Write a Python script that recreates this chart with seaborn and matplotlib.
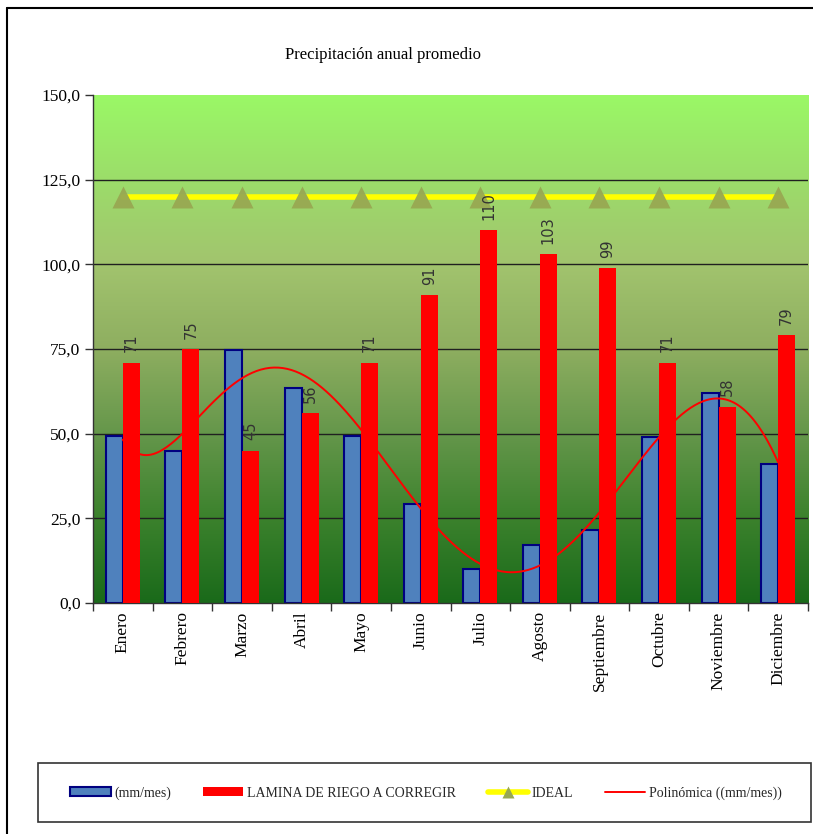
import numpy as np
import pandas as pd
import matplotlib
matplotlib.use("Agg")
import matplotlib.pyplot as plt
from matplotlib.colors import LinearSegmentedColormap
from matplotlib.lines import Line2D
from matplotlib.patches import Patch, Rectangle
import seaborn as sns

# ---- data ----
meses = ["Enero", "Febrero", "Marzo", "Abril", "Mayo", "Junio", "Julio",
         "Agosto", "Septiembre", "Octubre", "Noviembre", "Diciembre"]
precipitacion = [49.3, 44.9, 74.7, 63.5, 49.3, 29.2, 10.0, 17.1, 21.5, 49.1, 61.9, 41.0]
lamina = [71, 75, 45, 56, 71, 91, 110, 103, 99, 71, 58, 79]
ideal = [120] * 12
yticks = [0, 25, 50, 75, 100, 125, 150]

serif = ["Liberation Serif", "DejaVu Serif"]

sns.set_theme(style="white")
plt.rcParams["font.family"] = serif

fig = plt.figure(figsize=(8.13, 8.34), dpi=100)
ax = fig.add_axes([93 / 813, 1 - 603 / 834, 715 / 813, 508 / 834])

df = pd.DataFrame({
    "mes": meses * 2,
    "valor": precipitacion + lamina,
    "serie": ["(mm/mes)"] * 12 + ["LAMINA DE RIEGO A CORREGIR"] * 12,
})

sns.barplot(data=df, x="mes", y="valor", hue="serie", order=meses,
            palette=["#4F81BD", "#FF0000"], width=0.57, dodge=True,
            errorbar=None, legend=False, ax=ax, saturation=1)

blue_bars, red_bars = ax.containers[0], ax.containers[1]
for p in blue_bars:
    p.set_edgecolor("#000080")
    p.set_linewidth(1.5)
    p.set_zorder(2)
for p in red_bars:
    p.set_edgecolor("none")
    p.set_zorder(4)

# gradient background of the plot area
grad_cmap = LinearSegmentedColormap.from_list("fondo", [
    (0.00, "#1A6A1A"),
    (0.17, "#3C822D"),
    (0.33, "#64964A"),
    (0.50, "#8EAE60"),
    (0.67, "#A2C46E"),
    (0.83, "#9CDC6A"),
    (1.00, "#9AF866"),
])
grad = np.linspace(0, 1, 256).reshape(-1, 1)
ax.imshow(grad, cmap=grad_cmap, origin="lower", aspect="auto",
          extent=[-0.5, 11.5, 0, 150], zorder=0)

# horizontal gridlines
for v in yticks[1:-1]:
    ax.axhline(v, color="#202020", lw=1.0, zorder=1)

# polynomial trendline (order 6) of the monthly precipitation
xpos = np.arange(12)
coef = np.polyfit(xpos + 1, precipitacion, 6)
xs = np.linspace(1, 12, 300)
ax.plot(xs - 1, np.polyval(coef, xs), color="#FF0000", lw=1.4, zorder=3)

# ideal reference line with triangle markers
sns.lineplot(x=xpos, y=ideal, color="#FFFF00", lw=4, ax=ax, zorder=5)
ax.plot(xpos, ideal, ls="none", marker="^", ms=16, mfc="#98A852",
        mec="none", alpha=0.95, zorder=6)

# value labels on the red bars
for p, v in zip(red_bars, lamina):
    ax.text(p.get_x() + p.get_width() / 2, v + 3, f"{v}", rotation=90,
            ha="center", va="bottom", fontsize=10.5, color="#333333",
            family=["DejaVu Sans"], zorder=7)

ax.set_xlim(-0.5, 11.5)
ax.set_ylim(0, 150)
ax.set_yticks(yticks)
ax.set_yticklabels([f"{v:.1f}".replace(".", ",") for v in yticks],
                   fontsize=12.5, color="#000000")
ax.set_xticks(xpos)
ax.set_xticklabels(meses, rotation=90, fontsize=12.5, color="#000000")
ax.set_xticks(np.arange(-0.5, 12, 1), minor=True)
ax.tick_params(axis="x", which="major", length=0, pad=6)
ax.tick_params(axis="x", which="minor", length=6, width=1, color="#333333",
               direction="out", bottom=True)
ax.tick_params(axis="y", length=6, width=1, color="#333333",
               direction="out", left=True, pad=3)
ax.set_xlabel("")
ax.set_ylabel("")
for side in ["top", "right"]:
    ax.spines[side].set_visible(False)
for side in ["left", "bottom"]:
    ax.spines[side].set_visible(True)
    ax.spines[side].set_color("#333333")
    ax.spines[side].set_linewidth(1.0)

fig.text(383 / 813, 1 - 55 / 834, "Precipitación anual promedio",
         ha="center", va="center", fontsize=12, color="#000000")

# outer frame lines (top and left)
fig.add_artist(Line2D([7 / 813, 1], [1 - 8 / 834, 1 - 8 / 834],
                      transform=fig.transFigure, color="black", lw=1.5))
fig.add_artist(Line2D([7 / 813, 7 / 813], [0, 1 - 8 / 834],
                      transform=fig.transFigure, color="black", lw=1.5))

# legend box
fig.add_artist(Rectangle((38 / 813, 1 - 822 / 834), (811 - 38) / 813,
                         (822 - 763) / 834, transform=fig.transFigure,
                         fill=False, ec="#333333", lw=1.2))
handles = [
    Patch(facecolor="#4F81BD", edgecolor="#000080", lw=1.5),
    Patch(facecolor="#FF0000", edgecolor="none"),
    Line2D([0], [0], color="#FFFF00", lw=4, marker="^", ms=8,
           mfc="#98A852", mec="none"),
    Line2D([0], [0], color="#FF0000", lw=1.4),
]
labels = ["(mm/mes)", "LAMINA DE RIEGO A CORREGIR", "IDEAL",
          "Polinómica ((mm/mes))"]
fig.legend(handles, labels, loc="center", ncol=4,
           bbox_to_anchor=(426 / 813, 1 - 793 / 834), frameon=False,
           fontsize=10, handlelength=2.9, handleheight=0.6,
           handletextpad=0.25, columnspacing=2.3)

fig.savefig("out.png", dpi=100, facecolor="white")
